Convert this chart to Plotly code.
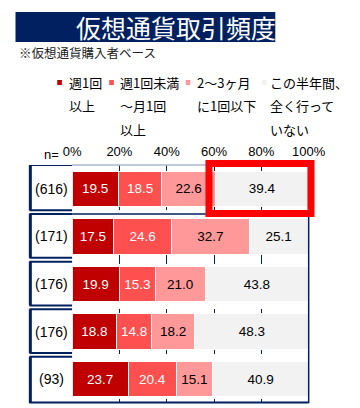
import plotly.graph_objects as go

# ---- data ----
series_names = ["週1回<br>以上", "週1回未満<br>～月1回<br>以上", "2～3ヶ月<br>に1回以下", "この半年間、<br>全く行って<br>いない"]
n_labels = ["(616)", "(171)", "(176)", "(176)", "(93)"]
v_weekly = [19.5, 17.5, 19.9, 18.8, 23.7]
v_monthly = [18.5, 24.6, 15.3, 14.8, 20.4]
v_quarterly = [22.6, 32.7, 21.0, 18.2, 15.1]
v_none = [39.4, 25.1, 43.8, 48.3, 40.9]
x_ticks = [0, 20, 40, 60, 80, 100]
title_text = "仮想通貨取引頻度"
subtitle_text = "※仮想通貨購入者ベース"

# ---- style ----
W, H = 360, 408
NAVY = "#002060"
FONT = "Liberation Sans, Arial, Noto Sans CJK JP, sans-serif"
JFONT = "Noto Sans CJK JP, Liberation Sans, sans-serif"
colors = ["#C00000", "#FF5050", "#FF9999", "#F2F2F2"]
txt_colors = ["white", "white", "black", "black"]
series_vals = [v_weekly, v_monthly, v_quarterly, v_none]
rows = list(range(len(n_labels)))

PX0, PX1 = 68, 323      # plot x in px
PY0, PY1 = 165, 403     # plot y in px (top, bottom)
ROW_H = (PY1 - PY0) / len(rows)

def px(x):
    return x / W

def py(y):
    return 1 - y / H

def xdata_to_px(v):
    return PX0 + v / 100 * (PX1 - PX0)

fig = go.Figure()
for name, vals, c, tc in zip(series_names, series_vals, colors, txt_colors):
    fig.add_trace(go.Bar(
        x=vals, y=rows, orientation="h", name=name.replace("<br>", ""),
        marker=dict(color=c, line=dict(color="white", width=1)),
        width=0.74,
        text=[f"{v:.1f}" for v in vals], textposition="inside",
        insidetextanchor="middle", textangle=0,
        textfont=dict(color=tc, size=13.5, family=FONT),
        constraintext="none", showlegend=False, hoverinfo="skip",
    ))

shapes = []
annotations = []

# title bar
shapes.append(dict(type="rect", xref="paper", yref="paper", x0=px(7), x1=px(287),
                   y0=py(42), y1=py(12), fillcolor=NAVY, line=dict(width=0), layer="below"))
annotations.append(dict(text=title_text, xref="paper", yref="paper", x=px(180), y=py(27),
                        showarrow=False, font=dict(color="white", size=25, family=JFONT),
                        xanchor="center", yanchor="middle"))
annotations.append(dict(text=subtitle_text, xref="paper", yref="paper", x=px(9), y=py(52),
                        showarrow=False, font=dict(color="#222222", size=12.5, family=JFONT),
                        xanchor="left", yanchor="middle"))

# legend
marker_x = [54.5, 110.5, 193, 275]
text_x = [62, 117, 200, 279]
line_y = [83, 106, 129]
for name, c, mx, tx in zip(series_names, colors, marker_x, text_x):
    shapes.append(dict(type="rect", xref="paper", yref="paper", x0=px(mx - 2.5), x1=px(mx + 2.5),
                       y0=py(85), y1=py(80), fillcolor=c, line=dict(width=0)))
    for ln, ly in zip(name.split("<br>"), line_y):
        annotations.append(dict(text=ln, xref="paper", yref="paper", x=px(tx), y=py(ly),
                                showarrow=False, font=dict(color="black", size=13, family=JFONT),
                                xanchor="left", yanchor="middle"))

annotations.append(dict(text="n=", xref="paper", yref="paper", x=px(46), y=py(154),
                        showarrow=False, font=dict(color="black", size=13, family=FONT),
                        xanchor="center", yanchor="middle"))

# n labels and row boxes
for i, lab in zip(rows, n_labels):
    annotations.append(dict(text=lab, xref="paper", yref="y", x=px(45.5), y=i,
                            showarrow=False, font=dict(color="black", size=14, family=FONT),
                            xanchor="center", yanchor="middle"))
    top = i - 0.47 if i > 0 else -0.5
    bot = i + 0.45 if i < len(rows) - 1 else 4.5
    shapes.append(dict(type="line", xref="paper", yref="y", x0=px(23), x1=px(23),
                       y0=top, y1=bot, line=dict(color=NAVY, width=3)))
    for yy in (top, bot):
        shapes.append(dict(type="line", xref="paper", yref="y", x0=px(22), x1=px(PX0),
                           y0=yy, y1=yy, line=dict(color=NAVY, width=2)))

# plot frame
shapes.append(dict(type="line", xref="paper", yref="paper", x0=px(PX0), x1=px(PX1),
                   y0=py(PY0), y1=py(PY0), line=dict(color="#A8B8D0", width=1.5)))
shapes.append(dict(type="line", xref="paper", yref="paper", x0=px(PX1), x1=px(PX1),
                   y0=py(PY0), y1=py(PY1), line=dict(color=NAVY, width=1.5)))
shapes.append(dict(type="line", xref="paper", yref="paper", x0=px(22), x1=px(PX1),
                   y0=py(PY1 - 0.5), y1=py(PY1 - 0.5), line=dict(color=NAVY, width=2)))
# separator between total and subgroups
shapes.append(dict(type="line", xref="paper", yref="y", x0=px(PX0), x1=px(PX1),
                   y0=0.53, y1=0.53, line=dict(color=NAVY, width=1.5)))

# highlight of the first row's last segment (paper coords so it is not clipped)
x_start = v_weekly[0] + v_monthly[0] + v_quarterly[0]
hx0 = xdata_to_px(x_start) - 7
hx1 = PX1 + 2.5
hy0 = PY0 - 1.5
hy1 = PY0 + ROW_H + 1
shapes.append(dict(type="rect", xref="paper", yref="paper", x0=px(hx0), x1=px(hx1),
                   y0=py(hy1), y1=py(hy0), line=dict(color="#FF0000", width=7)))

fig.update_layout(
    width=W, height=H, barmode="stack",
    margin=dict(l=0, r=0, t=0, b=0),
    paper_bgcolor="white", plot_bgcolor="white",
    shapes=shapes, annotations=annotations,
    xaxis=dict(domain=[px(PX0), px(PX1)], range=[0, 100], side="top",
               tickvals=x_ticks, ticktext=[f"{t}%" for t in x_ticks],
               tickfont=dict(size=13, family=FONT, color="black"),
               ticklabelstandoff=5,
               showgrid=True, gridcolor=NAVY, gridwidth=1, griddash="dash",
               zeroline=False, showline=False, ticks="", fixedrange=True),
    yaxis=dict(domain=[py(PY1), py(PY0)], range=[4.5, -0.5], showticklabels=False,
               showgrid=False, zeroline=False, showline=False, ticks="", fixedrange=True),
)

fig.write_html("out.html", config={"displayModeBar": False, "staticPlot": True},
               post_script="document.body.style.margin='0';")
